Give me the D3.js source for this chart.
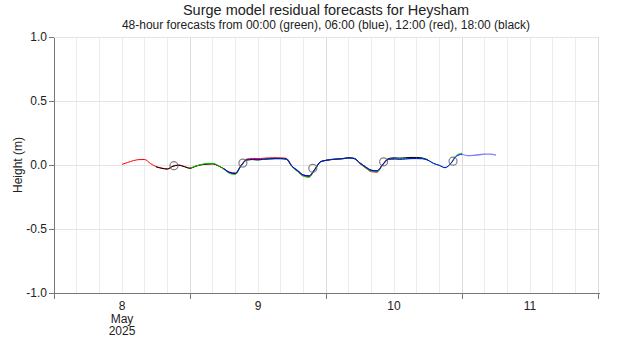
<!DOCTYPE html>
<html>
<head>
<meta charset="utf-8">
<script src="https://cdn.jsdelivr.net/npm/d3@7"></script>
<style>
  html, body { margin: 0; padding: 0; background: #fff; }
  svg { display: block; font-family: "Liberation Sans", Arial, sans-serif; }
</style>
</head>
<body>
<svg id="chart" width="620" height="350"></svg>
<script>
// Hourly surge residual forecasts (m), each run covering 48 hours
const redStart = "2025-05-08T12:00";
const redValues = [
  0.005, 0.020, 0.034, 0.042, 0.043, 0.012, -0.012, -0.024, -0.030, -0.008,
  0.000, -0.012, -0.024, -0.010, 0.002, 0.008, 0.010, -0.006, -0.030, -0.056,
  -0.062, -0.004, 0.046, 0.051, 0.050, 0.053, 0.056, 0.057, 0.056, 0.052,
  -0.008, -0.050, -0.084, -0.092, -0.036, 0.022, 0.036, 0.042, 0.046, 0.049,
  0.054, 0.049, 0.010, -0.024, -0.052, -0.056, 0.000, 0.042, 0.046
];
const blackStart = "2025-05-08T18:00";
const blackValues = [
  -0.014, -0.026, -0.032, -0.010, -0.002, -0.013, -0.026, -0.009, 0.002, 0.007,
  0.009, -0.007, -0.031, -0.060, -0.068, -0.007, 0.039, 0.043, 0.041, 0.045,
  0.048, 0.050, 0.050, 0.046, -0.010, -0.043, -0.078, -0.086, -0.036, 0.025,
  0.037, 0.044, 0.047, 0.051, 0.057, 0.052, 0.016, -0.015, -0.040, -0.046,
  0.004, 0.050, 0.056, 0.054, 0.057, 0.059, 0.059, 0.055, 0.040
];
const greenStart = "2025-05-09T00:00";
const greenValues = [
  -0.025, -0.008, 0.004, 0.012, 0.013, -0.005, -0.034, -0.066, -0.074, -0.008,
  0.038, 0.042, 0.040, 0.044, 0.047, 0.049, 0.049, 0.045, -0.014, -0.052,
  -0.088, -0.096, -0.040, 0.022, 0.036, 0.043, 0.046, 0.049, 0.054, 0.049,
  0.012, -0.022, -0.048, -0.052, 0.002, 0.044, 0.047, 0.044, 0.047, 0.050,
  0.051, 0.050, 0.038, 0.012, -0.003, -0.022, 0.012, 0.076, 0.092
];
const blueStart = "2025-05-09T06:00";
const blueValues = [
  -0.030, -0.058, -0.066, -0.005, 0.040, 0.043, 0.041, 0.045, 0.048, 0.050,
  0.050, 0.046, -0.010, -0.045, -0.078, -0.085, -0.035, 0.025, 0.036, 0.043,
  0.046, 0.050, 0.055, 0.050, 0.015, -0.016, -0.042, -0.046, 0.004, 0.045,
  0.048, 0.045, 0.048, 0.050, 0.050, 0.049, 0.037, 0.012, -0.003, -0.020,
  0.010, 0.068, 0.084, 0.073, 0.075, 0.080, 0.085, 0.085, 0.078
];

// High-water markers
const highWaterTimes = ["2025-05-08T21:10", "2025-05-09T09:20", "2025-05-09T21:40", "2025-05-10T10:10", "2025-05-10T22:25"];
const highWaterValues = [-0.005, 0.015, -0.026, 0.025, 0.030];

// Axis content
const yTicks = [-1.0, -0.5, 0.0, 0.5, 1.0];
const dayLabels = [["8", "May", "2025"], ["9"], ["10"], ["11"]];
const timeDomain = ["2025-05-08T00:00", "2025-05-12T00:00"];

const titleText = "Surge model residual forecasts for Heysham";
const subtitleText = "48-hour forecasts from 00:00 (green), 06:00 (blue), 12:00 (red), 18:00 (black)";
const yLabel = "Height (m)";

const parse = d3.utcParse("%Y-%m-%dT%H:%M");

const margin = { left: 54, right: 22, top: 37, bottom: 57 };
const W = 620, H = 350;
const svg = d3.select("#chart");

const x = d3.scaleUtc()
  .domain(timeDomain.map(parse))
  .range([margin.left, W - margin.right]);
const y = d3.scaleLinear()
  .domain([-1, 1])
  .range([H - margin.bottom, margin.top]);

// Grid: vertical every 4 hours, day boundaries a touch darker
const grid = svg.append("g");
const hours = d3.utcHour.every(4).range(x.domain()[0], d3.utcHour.offset(x.domain()[1], 1));
grid.selectAll("line.v").data(hours).join("line")
  .attr("x1", d => x(d)).attr("x2", d => x(d))
  .attr("y1", y(1)).attr("y2", y(-1))
  .attr("stroke", d => d.getUTCHours() === 0 ? "#dcdcdc" : "#ececec")
  .attr("stroke-width", 1)
  .attr("shape-rendering", "crispEdges");
grid.selectAll("line.h").data(yTicks.filter(v => v > -1)).join("line")
  .attr("x1", x.range()[0]).attr("x2", x.range()[1])
  .attr("y1", d => y(d)).attr("y2", d => y(d))
  .attr("stroke", "#e4e4e4")
  .attr("stroke-width", 1)
  .attr("shape-rendering", "crispEdges");

// Y axis
const yAxis = svg.append("g")
  .attr("transform", `translate(${margin.left},0)`)
  .call(d3.axisLeft(y).tickValues(yTicks).tickSize(5).tickSizeOuter(0).tickFormat(d => d.toFixed(1)));
yAxis.select(".domain").attr("stroke", "#777").attr("shape-rendering", "crispEdges");
yAxis.selectAll(".tick line").attr("stroke", "#777").attr("shape-rendering", "crispEdges");
yAxis.selectAll(".tick text").attr("font-size", 12).attr("fill", "#222")
  .attr("font-family", "Liberation Sans, Arial, sans-serif").attr("x", -7);

// X axis: ticks at midnight, day labels at noon
const days = d3.utcDay.range(x.domain()[0], d3.utcDay.offset(x.domain()[1], 1));
const xAxis = svg.append("g").attr("transform", `translate(0,${y(-1)})`);
xAxis.append("line")
  .attr("x1", x.range()[0]).attr("x2", x.range()[1] + 2)
  .attr("stroke", "#777").attr("shape-rendering", "crispEdges");
xAxis.selectAll("line.tick").data(days).join("line")
  .attr("x1", d => x(d)).attr("x2", d => x(d))
  .attr("y1", 0).attr("y2", 6)
  .attr("stroke", "#777").attr("shape-rendering", "crispEdges");
const noonTimes = days.slice(0, dayLabels.length).map(d => d3.utcHour.offset(d, 12));
noonTimes.forEach((t, i) => {
  const txt = xAxis.append("text")
    .attr("x", x(t)).attr("y", 17)
    .attr("text-anchor", "middle")
    .attr("font-size", 12).attr("fill", "#222");
  dayLabels[i].forEach((s, j) => {
    txt.append("tspan").attr("x", x(t)).attr("dy", j === 0 ? 0 : 12.5).text(s);
  });
});

// Y label
svg.append("text")
  .attr("transform", `translate(22,${y(0)}) rotate(-90)`)
  .attr("text-anchor", "middle")
  .attr("font-size", 12).attr("fill", "#222")
  .text(yLabel);

// Titles
const cx = (x.range()[0] + x.range()[1]) / 2;
svg.append("text").attr("x", cx).attr("y", 15)
  .attr("text-anchor", "middle").attr("font-size", 14.5).attr("fill", "#222")
  .text(titleText);
svg.append("text").attr("x", cx).attr("y", 29)
  .attr("text-anchor", "middle").attr("font-size", 12).attr("fill", "#222")
  .text(subtitleText);

// Forecast lines
function toPoints(start, values) {
  const t0 = parse(start);
  return values.map((v, i) => ({ t: d3.utcHour.offset(t0, i), v }));
}
const series = [
  { color: "#ff0000", pts: toPoints(redStart, redValues) },
  { color: "#000000", pts: toPoints(blackStart, blackValues) },
  { color: "#00cc00", pts: toPoints(greenStart, greenValues) },
  { color: "#0000ff", pts: toPoints(blueStart, blueValues) }
];
const line = d3.line()
  .x(d => x(d.t)).y(d => y(d.v))
  .curve(d3.curveMonotoneX);

const plot = svg.append("g");
const last = series[series.length - 1];
const earlierEnd = d3.max(series.slice(0, -1), s => s.pts[s.pts.length - 1].t);
const lw = 1;
series.forEach(s => {
  if (s === last) {
    const main = s.pts.filter(p => p.t <= earlierEnd);
    const tail = s.pts.filter(p => p.t >= earlierEnd);
    plot.append("path").datum(tail).attr("d", line)
      .attr("fill", "none").attr("stroke", s.color).attr("stroke-opacity", 0.5)
      .attr("stroke-width", lw + 0.3);
    plot.append("path").datum(main).attr("d", line)
      .attr("fill", "none").attr("stroke", s.color).attr("stroke-width", lw);
  } else {
    plot.append("path").datum(s.pts).attr("d", line)
      .attr("fill", "none").attr("stroke", s.color).attr("stroke-width", lw);
  }
});

// High-water circles
plot.selectAll("circle").data(highWaterTimes.map((t, i) => ({ t: parse(t), v: highWaterValues[i] })))
  .join("circle")
  .attr("cx", d => x(d.t)).attr("cy", d => y(d.v))
  .attr("r", 4)
  .attr("fill", "none")
  .attr("stroke", "#555").attr("stroke-opacity", 0.75)
  .attr("stroke-width", 1.2);
</script>
</body>
</html>
